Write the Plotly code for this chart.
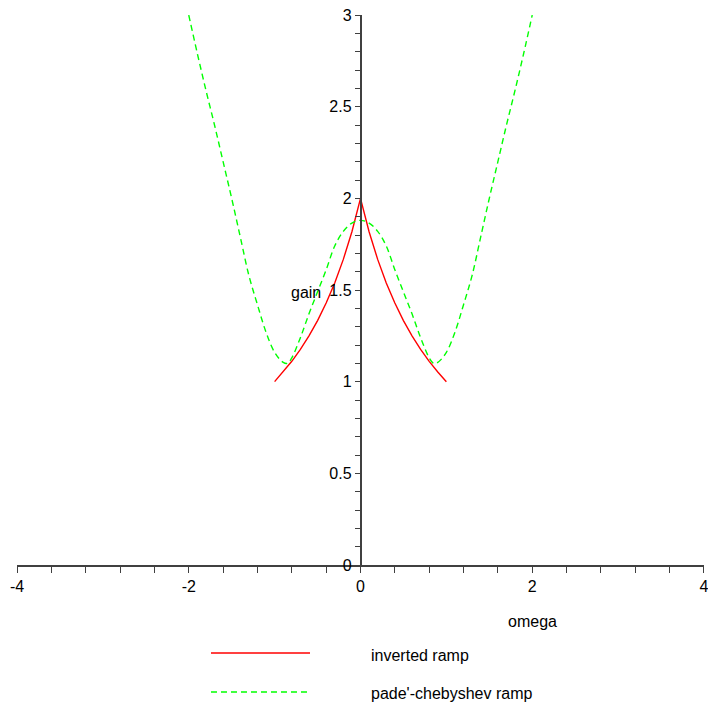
import plotly.graph_objects as go

# inverted ramp
red_x = [-1.0, -0.9, -0.8, -0.7, -0.6, -0.5, -0.4, -0.3, -0.2, -0.1, 0.0,
         0.1, 0.2, 0.3, 0.4, 0.5, 0.6, 0.7, 0.8, 0.9, 1.0]
red_y = [1.0, 1.053, 1.111, 1.176, 1.25, 1.333, 1.429, 1.538, 1.667, 1.818, 2.0,
         1.818, 1.667, 1.538, 1.429, 1.333, 1.25, 1.176, 1.111, 1.053, 1.0]

# pade'-chebyshev ramp
green_x = [-2.0, -1.9, -1.8, -1.7, -1.6, -1.5, -1.4, -1.3, -1.2, -1.1, -1.0,
           -0.9, -0.85, -0.8, -0.7, -0.6, -0.5, -0.4, -0.3, -0.2, -0.1, 0.0,
           0.1, 0.2, 0.3, 0.4, 0.5, 0.6, 0.7, 0.8, 0.85, 0.9, 1.0,
           1.1, 1.2, 1.3, 1.4, 1.5, 1.6, 1.7, 1.8, 1.9, 2.0]
green_y = [3.0, 2.79, 2.59, 2.40, 2.20, 2.00, 1.79, 1.58, 1.42, 1.27, 1.16,
           1.105, 1.10, 1.13, 1.24, 1.37, 1.49, 1.61, 1.74, 1.82, 1.865, 1.88,
           1.865, 1.82, 1.74, 1.61, 1.49, 1.37, 1.24, 1.13, 1.10, 1.105, 1.16,
           1.27, 1.42, 1.58, 1.79, 2.00, 2.20, 2.40, 2.59, 2.79, 3.0]

x_tickvals = [-4, -2, 0, 2, 4]
x_ticktext = ["-4", "-2", "0", "2", "4"]
y_tickvals = [0, 0.5, 1, 1.5, 2, 2.5, 3]
y_ticktext = ["0", "0.5", "1", "1.5", "2", "2.5", "3"]

legend_names = ["inverted ramp", "pade'-chebyshev ramp"]

W, H = 708, 709
L, R, T, B = 17, 4, 15, 144
pw, ph = W - L - R, H - T - B

def px(xp):
    return (xp - L) / pw

def py(yp):
    return (H - B - yp) / ph

FONT = "Liberation Sans, Arial, sans-serif"
AX = "#404040"
FS = 16

fig = go.Figure()
fig.add_trace(go.Scatter(x=red_x, y=red_y, mode="lines",
                         line=dict(color="#ff0000", width=1.4),
                         name=legend_names[0], showlegend=False))
fig.add_trace(go.Scatter(x=green_x, y=green_y, mode="lines",
                         line=dict(color="#00ff00", width=1.4, dash="6px,4px", shape="spline"),
                         name=legend_names[1], showlegend=False))

fig.update_layout(
    width=W, height=H,
    margin=dict(l=L, r=R, t=T, b=B, autoexpand=False),
    paper_bgcolor="white", plot_bgcolor="white",
    font=dict(family=FONT, size=FS, color="black"),
    xaxis=dict(range=[-4, 4.0001], showgrid=False, zeroline=False, automargin=False,
               showline=True, linecolor=AX, linewidth=1.5,
               ticks="outside", ticklen=6, tickcolor=AX, tickwidth=1,
               tickmode="array", tickvals=x_tickvals, ticktext=x_ticktext,
               ticklabeloverflow="allow",
               minor=dict(dtick=0.4, tick0=0, ticks="outside", ticklen=6, tickcolor=AX),
               tickfont=dict(size=FS)),
    yaxis=dict(range=[0, 3.0001], showgrid=False, zeroline=False, automargin=False,
               anchor="free", position=0.5,
               showline=True, linecolor=AX, linewidth=1.5,
               ticks="outside", ticklen=5, tickcolor=AX, tickwidth=1,
               tickmode="array", tickvals=y_tickvals, ticktext=y_ticktext,
               ticklabeloverflow="allow",
               minor=dict(dtick=0.1, tick0=0, ticks="outside", ticklen=5, tickcolor=AX),
               tickfont=dict(size=FS)),
)

# axis labels
fig.add_annotation(x=px(306), y=py(292), xref="paper", yref="paper", text="gain",
                   showarrow=False, font=dict(size=FS), xanchor="center", yanchor="middle")
fig.add_annotation(x=px(532), y=py(621), xref="paper", yref="paper", text="omega",
                   showarrow=False, font=dict(size=FS), xanchor="center", yanchor="middle")

# legend drawn by hand
fig.add_shape(type="line", xref="paper", yref="paper", x0=px(211), x1=px(310),
              y0=py(653), y1=py(653), line=dict(color="#ff0000", width=1.4))
fig.add_shape(type="line", xref="paper", yref="paper", x0=px(211), x1=px(308),
              y0=py(692), y1=py(692), line=dict(color="#00ff00", width=1.4, dash="6px,4px"))
fig.add_annotation(x=px(369), y=py(655), xref="paper", yref="paper", text=legend_names[0],
                   showarrow=False, font=dict(size=FS), xanchor="left", yanchor="middle")
fig.add_annotation(x=px(369), y=py(693), xref="paper", yref="paper", text=legend_names[1],
                   showarrow=False, font=dict(size=FS), xanchor="left", yanchor="middle")

fig.write_html("out.html")
